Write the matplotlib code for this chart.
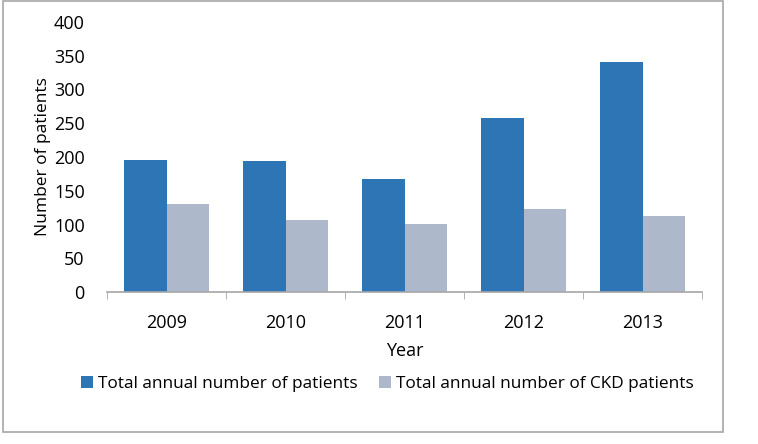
import matplotlib
matplotlib.use("Agg")
import matplotlib.pyplot as plt
import numpy as np
from matplotlib.patches import Rectangle

years = ["2009", "2010", "2011", "2012", "2013"]
total_patients = [196, 194, 167, 258, 341]
ckd_patients = [131, 107, 101, 123, 113]
series_names = ["Total annual number of patients", "Total annual number of CKD patients"]
yticks = [0, 50, 100, 150, 200, 250, 300, 350, 400]

plt.rcParams['font.family'] = ['Open Sans', 'DejaVu Sans']

fig = plt.figure(figsize=(7.58, 4.44), dpi=100)
fig.patch.set_facecolor('white')
fig.add_artist(Rectangle((3/758, 12/444), 720/758, 431/444, transform=fig.transFigure,
                         fill=False, edgecolor='#a6a6a6', linewidth=1.2))

ax = fig.add_axes([107/758, 1 - 292/444, 595/758, 270/444])
x = np.arange(len(years))
w = 0.36
ax.bar(x - w/2, total_patients, w, color='#2E75B6', label=series_names[0])
ax.bar(x + w/2, ckd_patients, w, color='#ADB9CA', label=series_names[1])

ax.set_xlim(-0.5, len(years) - 0.5)
ax.set_ylim(0, 400)
ax.set_yticks(yticks)
ax.set_xticks(x)
ax.set_xticklabels(years)
ax.set_xticks(np.arange(-0.5, len(years), 1.0), minor=True)
ax.tick_params(axis='x', which='major', length=0, pad=16, labelsize=13)
ax.tick_params(axis='x', which='minor', length=5, color='#a6a6a6', direction='out')
ax.tick_params(axis='y', length=0, pad=16, labelsize=13)
for s in ['top', 'right', 'left']:
    ax.spines[s].set_visible(False)
ax.spines['bottom'].set_color('#a6a6a6')
ax.spines['bottom'].set_linewidth(1.2)
ax.set_xlabel("Year", fontsize=13, labelpad=7)
ax.set_ylabel("Number of patients", fontsize=12.5, labelpad=2)

fig.legend(loc='center', bbox_to_anchor=(0.511, 1 - 384/444), ncol=2, frameon=False,
           fontsize=12.4, handlelength=0.7, handleheight=0.7, handletextpad=0.3, columnspacing=1.2)

fig.savefig("out.png", dpi=100)
